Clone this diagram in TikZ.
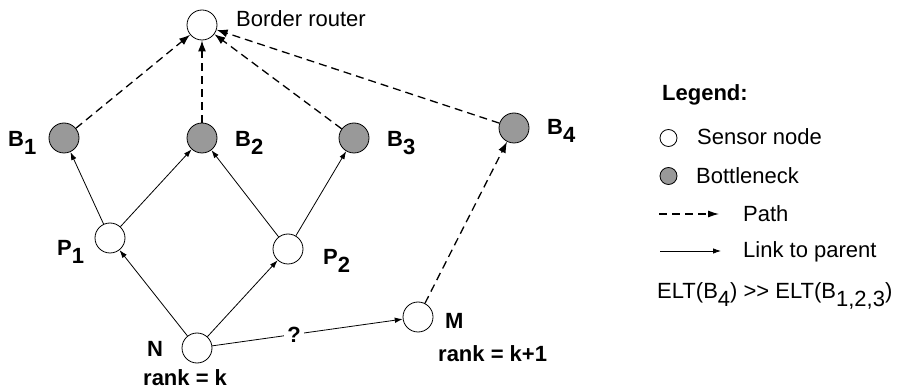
\documentclass[tikz,border=0pt]{standalone}
\usepackage{fontspec}
\setmainfont{Liberation Sans}
\usetikzlibrary{arrows.meta}
\newcommand\lsub[1]{\raisebox{-8pt}{#1}}
\begin{document}
\begin{tikzpicture}[x=1pt,y=-1pt,
  font=\fontsize{22}{24}\selectfont,
  sensor/.style={circle,draw,line width=0.8pt,minimum size=30pt,inner sep=0pt,fill=white},
  bneck/.style={sensor,fill=black!40},
  lsensor/.style={circle,draw,line width=0.8pt,minimum size=17pt,inner sep=0pt,fill=white},
  lbneck/.style={lsensor,fill=black!40},
  pathline/.style={line width=1.3pt,dash pattern=on 8pt off 5pt,-{Latex[length=11pt,width=8pt]}},
  link/.style={line width=0.8pt,-{Latex[length=8pt,width=5.5pt]}},
  lbl/.style={anchor=base west,inner sep=0pt,font=\fontsize{22}{24}\selectfont\bfseries},
  txt/.style={anchor=base west,inner sep=0pt}]
\useasboundingbox (0,0) rectangle (898,390);
% nodes
\node[sensor] (BR) at (202,25) {};
\node[bneck] (B1) at (64,138) {};
\node[bneck] (B2) at (202,138) {};
\node[bneck] (B3) at (354,138) {};
\node[bneck] (B4) at (514,128) {};
\node[sensor] (P1) at (110,238) {};
\node[sensor] (P2) at (288,249) {};
\node[sensor] (N) at (197,348) {};
\node[sensor] (M) at (418,317) {};
% labels
\node[txt] (tBR) at (236,27) {Border router};
\node[lbl] (tB1) at (8,147) {B\lsub{1}};
\node[lbl] (tB2) at (235,147) {B\lsub{2}};
\node[lbl] (tB3) at (387,147) {B\lsub{3}};
\node[lbl] (tB4) at (547,135) {B\lsub{4}};
\node[lbl] (tP1) at (57,256) {P\lsub{1}};
\node[lbl] (tP2) at (323,265) {P\lsub{2}};
\node[lbl] (tN) at (147,356) {N};
\node[lbl] (tRk) at (143,386) {rank = k};
\node[lbl] (tM) at (445,329) {M};
\node[lbl] (tRk1) at (438,362) {rank = k+1};
% paths
\draw[pathline] (B1) -- (BR);
\draw[pathline] (B2) -- (BR);
\draw[pathline] (B3) -- (BR);
\draw[pathline] (B4) -- (BR);
\draw[pathline] (M) -- (B4);
% links
\draw[link] (P1) -- (B1);
\draw[link] (P1) -- (B2);
\draw[link] (P2) -- (B2);
\draw[link] (P2) -- (B3);
\draw[link] (N) -- (P1);
\draw[link] (N) -- (P2);
\draw[link] (N) -- node[pos=0.43,fill=white,inner sep=3pt,font=\fontsize{22}{24}\selectfont\bfseries] (q) {?} (M);
% legend
\node[lbl] (leg) at (662,101) {Legend:};
\node[lsensor] (ls) at (668.5,138) {};
\node[txt] (lst) at (697,145) {Sensor node};
\node[lbneck] (lb) at (668.5,176) {};
\node[txt] (lbt) at (696,184) {Bottleneck};
\coordinate (lp1) at (659,214);
\coordinate (lp2) at (719,214);
\draw[pathline,line width=1.1pt,-{Latex[length=11pt,width=7pt]}] (lp1) -- (lp2);
\node[txt] (lpt) at (743,222) {Path};
\coordinate (ll1) at (660,251);
\coordinate (ll2) at (721,251);
\draw[link] (ll1) -- (ll2);
\node[txt] (llt) at (743,258) {Link to parent};
\node[txt] (elt) at (657,299) {ELT(B\lsub{4}) >\kern0pt> ELT(B\lsub{1,2,3})};
\end{tikzpicture}
\end{document}
